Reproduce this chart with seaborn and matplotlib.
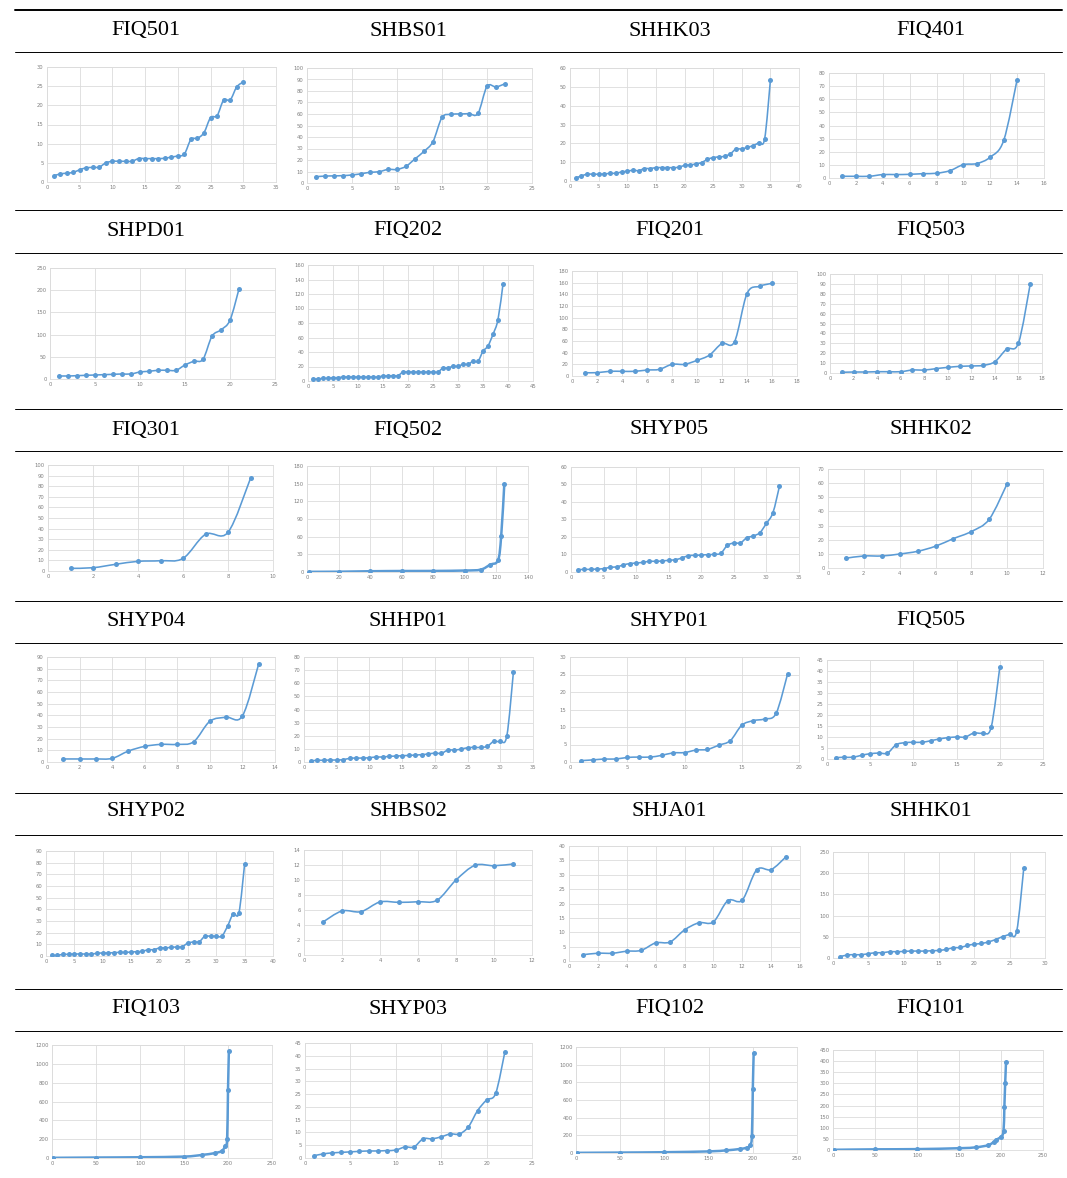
import numpy as np
import pandas as pd
import seaborn as sns
import matplotlib
matplotlib.use("Agg")
import matplotlib.pyplot as plt
from matplotlib.path import Path
from matplotlib.patches import PathPatch
from matplotlib.lines import Line2D

# ---- data (x defaults to 1..n) ----
names = ["FIQ501", "SHBS01", "SHHK03", "FIQ401",
         "SHPD01", "FIQ202", "FIQ201", "FIQ503",
         "FIQ301", "FIQ502", "SHYP05", "SHHK02",
         "SHYP04", "SHHP01", "SHYP01", "FIQ505",
         "SHYP02", "SHBS02", "SHJA01", "SHHK01",
         "FIQ103", "SHYP03", "FIQ102", "FIQ101"]

y_FIQ501 = [1.6, 2.1, 2.3, 2.5, 3.2, 3.7, 3.8, 3.9, 5.0, 5.4, 5.4, 5.4, 5.4, 6.1, 6.1,
            6.1, 6.1, 6.2, 6.5, 6.8, 7.3, 11.1, 11.4, 12.9, 16.8, 17.3, 21.4, 21.4, 24.8, 26.1]
y_SHBS01 = [5.5, 6.0, 6.2, 6.4, 7.0, 8.0, 9.3, 9.8, 11.8, 11.8, 14.5, 21.0, 27.5, 36.0,
            57.0, 59.7, 60.0, 60.3, 60.5, 84.0, 83.5, 86.3]
y_SHHK03 = [1.6, 2.7, 3.6, 3.6, 3.6, 3.7, 4.1, 4.1, 4.8, 5.2, 5.7, 5.5, 6.6, 6.6, 7.1,
            7.1, 7.1, 7.1, 7.3, 8.3, 8.5, 9.1, 9.8, 11.5, 12.4, 12.8, 13.1, 14.4, 17.0,
            17.0, 17.9, 18.8, 20.4, 22.4, 53.4]
y_FIQ401 = [1.3, 1.3, 1.3, 2.6, 2.6, 2.8, 3.3, 3.6, 5.6, 10.2, 11.0, 15.9, 28.6, 75.0]
y_SHPD01 = [6.8, 6.8, 7.5, 8.3, 9.0, 9.8, 10.5, 11.3, 11.3, 15.8, 17.3, 19.6, 19.6, 19.6,
            31.6, 40.0, 44.4, 96.4, 110.7, 132.5, 203.0]
y_FIQ202 = [2.8, 2.8, 3.7, 3.7, 4.6, 4.6, 5.5, 5.5, 5.5, 5.5, 5.5, 5.5, 5.5, 5.5, 6.9,
            6.9, 7.4, 7.4, 12.4, 12.4, 12.4, 12.4, 12.4, 12.4, 12.4, 12.4, 18.0, 18.0,
            20.3, 20.3, 23.0, 23.0, 27.2, 27.2, 41.0, 48.4, 64.5, 84.8, 133.7]
y_FIQ201 = [5.7, 5.7, 8.0, 8.0, 8.0, 10.2, 11.4, 20.0, 20.0, 26.8, 35.9, 55.8, 58.7,
            141.2, 153.8, 158.9]
y_FIQ503 = [0.7, 1.0, 1.0, 1.3, 1.3, 1.3, 3.0, 3.0, 4.4, 5.7, 6.7, 7.1, 7.7, 11.4, 24.2,
            30.3, 89.9]
y_FIQ301 = [2.5, 3.1, 6.3, 9.1, 9.7, 11.9, 34.6, 36.5, 87.4]
x_FIQ502 = [1, 20, 40, 60, 80, 100, 110, 116, 121, 123, 125]
y_FIQ502 = [0.3, 0.5, 1.3, 1.7, 1.8, 2.5, 4.0, 12.4, 19.8, 60.5, 150.0]
y_SHYP05 = [1.3, 1.5, 1.5, 1.7, 1.9, 2.7, 2.9, 4.0, 4.8, 5.1, 5.5, 6.1, 6.1, 6.3, 6.7,
            7.0, 8.0, 9.3, 9.5, 9.7, 9.9, 10.1, 10.7, 15.2, 16.6, 16.6, 19.6, 20.6, 22.5,
            27.8, 33.9, 49.0]
y_SHHK02 = [6.9, 8.5, 8.5, 9.9, 11.8, 15.4, 20.8, 25.8, 34.5, 59.6]
y_SHYP04 = [2.6, 2.6, 2.6, 3.1, 9.4, 13.4, 15.1, 15.1, 17.3, 34.9, 38.4, 39.5, 84.1]
y_SHHP01 = [0.8, 1.3, 1.3, 1.5, 1.5, 1.8, 2.8, 3.0, 3.0, 3.3, 3.8, 3.8, 4.3, 4.5, 4.8,
            5.0, 5.3, 5.6, 6.1, 6.8, 6.6, 9.1, 9.1, 9.8, 10.9, 11.1, 11.1, 11.9, 15.7,
            15.7, 19.9, 68.2]
y_SHYP01 = [0.4, 0.6, 0.85, 0.85, 1.3, 1.4, 1.4, 1.9, 2.6, 2.7, 3.4, 3.6, 4.8, 6.1,
            10.5, 11.8, 12.3, 13.9, 25.1]
y_FIQ505 = [0.6, 0.8, 0.8, 1.7, 2.4, 2.7, 2.7, 6.5, 7.4, 7.6, 7.6, 8.3, 9.1, 9.7, 10.0,
            10.0, 11.8, 11.8, 14.4, 41.7]
y_SHYP02 = [0.6, 0.6, 1.4, 1.4, 1.7, 1.7, 1.7, 1.7, 2.3, 2.6, 2.6, 2.9, 3.1, 3.1, 3.4,
            3.7, 4.0, 5.4, 5.4, 6.9, 6.9, 7.4, 7.7, 8.0, 11.1, 12.0, 12.3, 16.9, 16.9,
            16.9, 17.1, 25.7, 36.3, 37.1, 78.9]
y_SHBS02 = [4.4, 5.87, 5.78, 7.07, 7.02, 7.1, 7.3, 10.0, 11.96, 11.9, 12.13]
y_SHJA01 = [2.2, 2.7, 2.7, 3.4, 3.7, 6.3, 6.6, 10.8, 13.3, 13.6, 21.0, 21.2, 31.7, 31.8,
            36.1]
y_SHHK01 = [3.1, 7.0, 7.8, 7.8, 10.1, 12.4, 12.4, 14.8, 14.8, 15.5, 16.3, 16.3, 16.3,
            17.1, 17.9, 20.2, 24.1, 24.8, 29.5, 32.6, 34.2, 38.0, 43.5, 50.5, 55.9, 63.7,
            212.7]
x_FIQ103 = [1, 50, 100, 150, 170, 185, 193, 197, 199, 200, 201]
y_FIQ103 = [2, 5, 8, 15, 32, 52, 75, 130, 200, 720, 1135]
y_SHYP03 = [0.9, 1.6, 2.0, 2.2, 2.4, 2.6, 2.75, 2.75, 2.9, 3.1, 4.3, 4.3, 7.5, 7.5, 8.3,
            9.4, 9.4, 12.2, 18.5, 22.7, 25.3, 41.3]
x_FIQ102 = [1, 50, 100, 150, 170, 185, 193, 197, 199, 200, 201]
y_FIQ102 = [2, 5, 9, 18, 30, 45, 60, 85, 195, 725, 1135]
x_FIQ101 = [1, 50, 100, 150, 170, 185, 192, 194, 200, 203, 204, 205, 206]
y_FIQ101 = [1, 3, 4, 8, 12, 22, 38, 45, 60, 85, 193, 303, 397]

# axis ranges: (x max, x step, y max, y step)
x_max = [35, 25, 40, 16, 25, 45, 18, 18, 10, 140, 35, 12,
         14, 35, 20, 25, 40, 12, 16, 30, 250, 25, 250, 250]
x_step = [5, 5, 5, 2, 5, 5, 2, 2, 2, 20, 5, 2,
          2, 5, 5, 5, 5, 2, 2, 5, 50, 5, 50, 50]
y_max = [30, 100, 60, 80, 250, 160, 180, 100, 100, 180, 60, 70,
         90, 80, 30, 45, 90, 14, 40, 250, 1200, 45, 1200, 450]
y_step = [5, 10, 10, 10, 50, 20, 20, 10, 10, 30, 10, 10,
          10, 10, 5, 5, 10, 2, 5, 50, 200, 5, 200, 50]

g = globals()
series = {}
for n in names:
    yy = g["y_" + n]
    xx = g.get("x_" + n, list(range(1, len(yy) + 1)))
    series[n] = pd.DataFrame({"x": xx, "y": yy})

# long series are drawn with a heavier line (dense markers in the original)
dense = {"FIQ502", "FIQ103", "FIQ102", "FIQ101"}

# ---- layout (pixels) ----
W, H = 1067, 1178
boxes = [
    (47, 67, 276, 182), (307, 68, 532, 183), (570, 68, 799, 181), (829, 73, 1044, 178),
    (50, 268, 275, 379), (308, 265, 533, 381), (572, 271, 797, 376), (830, 274, 1042, 373),
    (48, 465, 273, 571), (307, 466, 528, 572), (571, 467, 799, 572), (828, 469, 1043, 568),
    (47, 657, 275, 762), (304, 657, 533, 762), (570, 657, 799, 762), (827, 660, 1043, 759),
    (46, 851, 273, 956), (304, 850, 532, 955), (569, 846, 800, 961), (833, 852, 1045, 958),
    (52, 1045, 272, 1158), (305, 1043, 532, 1158), (576, 1047, 797, 1153), (833, 1050, 1043, 1150),
]
header_y = [31, 231, 430, 621, 812, 1009]
rule_y = [52, 210, 253, 409, 451, 601, 643, 793, 835, 989, 1031]
col_cx = [146, 408, 669.5, 931]

BLUE = "#5B9BD5"
GRID = "#dcdcdc"

sns.set_theme(style="white")
plt.rcParams["font.family"] = ["DejaVu Sans"]


def smooth_path(x, y):
    # Excel-style smoothed line: cubic Bezier through the points
    pts = np.column_stack([x, y]).astype(float)
    n = len(pts)
    verts, codes = [pts[0]], [Path.MOVETO]
    for i in range(n - 1):
        p0 = pts[max(i - 1, 0)]
        p1 = pts[i]
        p2 = pts[i + 1]
        p3 = pts[min(i + 2, n - 1)]
        verts += [p1 + (p2 - p0) / 6, p2 - (p3 - p1) / 6, p2]
        codes += [Path.CURVE4] * 3
    return Path(verts, codes)


fig = plt.figure(figsize=(W / 100, H / 100), dpi=100)

for i, n in enumerate(names):
    x0, y0, x1, y1 = boxes[i]
    ax = fig.add_axes([x0 / W, 1 - y1 / H, (x1 - x0) / W, (y1 - y0) / H])
    df = series[n]
    ax.add_patch(PathPatch(smooth_path(df["x"], df["y"]), fill=False,
                           edgecolor=BLUE, lw=1.8 if n in dense else 1.15,
                           zorder=2))
    sns.scatterplot(data=df, x="x", y="y", ax=ax, s=13, color=BLUE,
                    edgecolor=BLUE, linewidth=0, zorder=3, legend=False)
    ax.set_xlim(0, x_max[i])
    ax.set_ylim(0, y_max[i])
    ax.set_xticks(np.arange(0, x_max[i] + 0.001, x_step[i]))
    ax.set_yticks(np.arange(0, y_max[i] + 0.001, y_step[i]))
    ax.grid(True, color=GRID, lw=0.6)
    ax.set_axisbelow(True)
    for s in ax.spines.values():
        s.set_color(GRID)
        s.set_linewidth(0.6)
    ax.tick_params(length=0, labelsize=3.8, labelcolor="#808080", pad=2.5)
    ax.set_xlabel("")
    ax.set_ylabel("")
    # header cell
    r, c = divmod(i, 4)
    fig.text(col_cx[c] / W, 1 - header_y[r] / H, n, ha="center", va="center",
             fontsize=16, family="Liberation Serif", color="black")

# table rules
fig.add_artist(Line2D([15 / W, 1062 / W], [1 - 10 / H] * 2, color="black", lw=1.4,
                      transform=fig.transFigure))
for yy in rule_y:
    fig.add_artist(Line2D([15 / W, 1062 / W], [1 - yy / H] * 2, color="black", lw=0.7,
                          transform=fig.transFigure))

fig.savefig("out.png", dpi=100)
